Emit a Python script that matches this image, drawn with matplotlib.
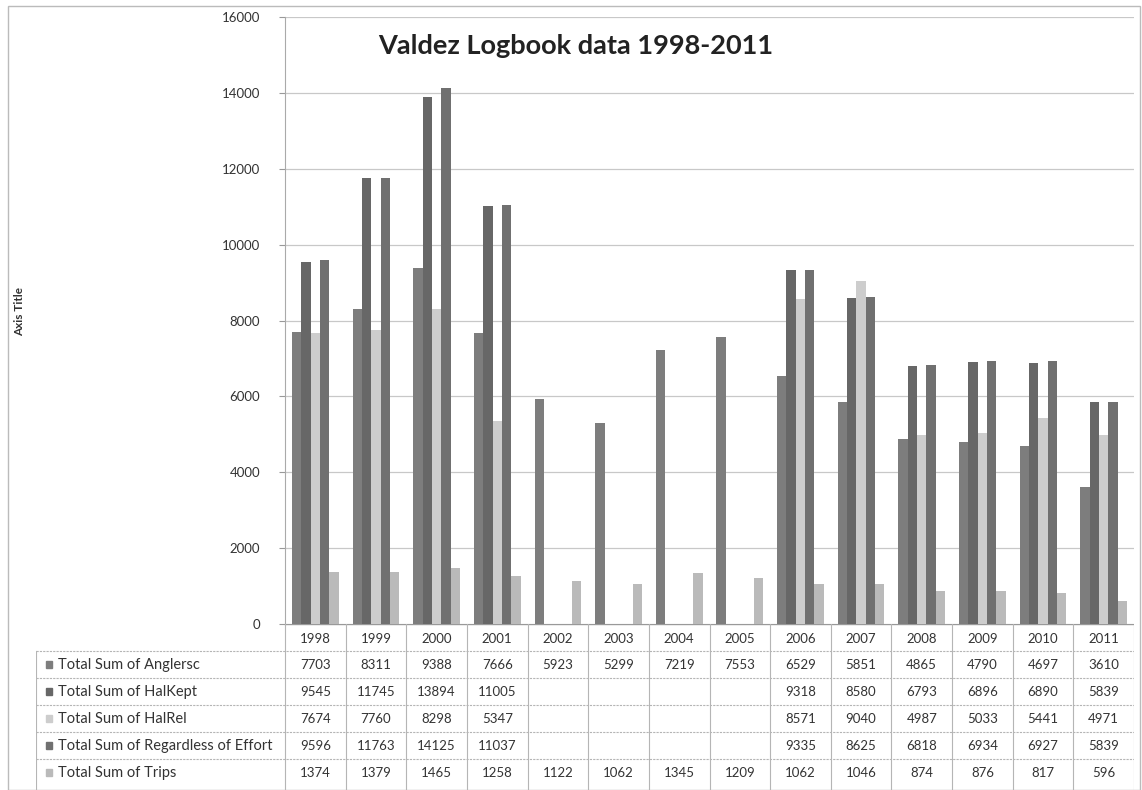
import matplotlib

matplotlib.use("Agg")
import matplotlib.pyplot as plt
import numpy as np
from matplotlib.patches import Rectangle

years = ["1998", "1999", "2000", "2001", "2002", "2003", "2004",
         "2005", "2006", "2007", "2008", "2009", "2010", "2011"]
series_names = ["Total Sum of Anglersc", "Total Sum of HalKept", "Total Sum of HalRel",
                "Total Sum of Regardless of Effort", "Total Sum of Trips"]
anglersc = [7703, 8311, 9388, 7666, 5923, 5299, 7219, 7553, 6529, 5851, 4865, 4790, 4697, 3610]
halkept = [9545, 11745, 13894, 11005, None, None, None, None, 9318, 8580, 6793, 6896, 6890, 5839]
halrel = [7674, 7760, 8298, 5347, None, None, None, None, 8571, 9040, 4987, 5033, 5441, 4971]
regardless = [9596, 11763, 14125, 11037, None, None, None, None, 9335, 8625, 6818, 6934, 6927, 5839]
trips = [1374, 1379, 1465, 1258, 1122, 1062, 1345, 1209, 1062, 1046, 874, 876, 817, 596]
colors = ["#7d7d7d", "#676767", "#cdcdcd", "#707070", "#bababa"]

all_series = [anglersc, halkept, halrel, regardless, trips]
plt.rcParams["font.family"] = ["Lato", "DejaVu Sans"]

W, H = 1142, 790
fig = plt.figure(figsize=(W / 100, H / 100), dpi=100)

# outer chart border
fig.patches.append(Rectangle((8 / W, 0), (W - 10) / W, (H - 6) / H, transform=fig.transFigure,
                             fill=False, edgecolor="#bbbbbb", linewidth=1.0))

left, right, top, base = 285, 1134, 17, 624
ax = fig.add_axes([left / W, (H - base) / H, (right - left) / W, (base - top) / H])

x = np.arange(len(years))
bw = 1 / 6.5    # excel-style 150% gap
for i, (vals, c) in enumerate(zip(all_series, colors)):
    xs = np.array([xi for xi, v in zip(x, vals) if v is not None])
    hs = [v for v in vals if v is not None]
    ax.bar(xs + (i - 2) * bw, hs, width=bw, color=c, zorder=3)

ax.set_xlim(-0.5, len(years) - 0.5)
ax.set_ylim(0, 16000)
ax.set_yticks(range(0, 16001, 2000))
ax.tick_params(axis="y", labelsize=9.5, length=4, color="#999999", pad=14, labelcolor="#333333")
ax.set_xticks([])
ax.grid(axis="y", color="#c8c8c8", linewidth=0.9, zorder=0)
for s in ["top", "right", "bottom"]:
    ax.spines[s].set_visible(False)
ax.spines["left"].set_color("#aaaaaa")
fig.text(20 / W, 1 - 312 / H, "Axis Title", rotation=90, ha="center", va="center",
         fontsize=8.5, fontweight="bold", color="#333333")
ax.text(0.11, 0.952, "Valdez Logbook data 1998-2011", transform=ax.transAxes,
        fontsize=19.5, fontweight="bold", color="#222222", va="center")

# data table under the plot
tab_left = 36
colw = (right - left) / len(years)
rowh = 27
tab = fig.add_axes([tab_left / W, 0, (right - tab_left) / W, (H - base) / H])
lab_w = (left - tab_left) / colw
tab.set_xlim(-0.5 - lab_w, len(years) - 0.5)
tab.set_ylim((H - base) / rowh, 0)
tab.axis("off")

grid_c = "#b5b5b5"
tab.plot([-0.5, len(years) - 0.5], [0, 0], color="#999999", lw=1.0)
for r in range(1, 6):
    tab.plot([-0.5 - lab_w, len(years) - 0.5], [r, r], color=grid_c, lw=0.8, ls=(0, (2, 1)))
for k in range(len(years) + 1):
    tab.plot([k - 0.5, k - 0.5], [0, 6.2], color=grid_c, lw=0.8)
tab.plot([-0.5 - lab_w, -0.5 - lab_w], [1, 6.2], color=grid_c, lw=0.8)

for k, yr in enumerate(years):
    tab.text(k, 0.55, yr, ha="center", va="center", fontsize=9.5, color="#333333")
for r, (name, vals, c) in enumerate(zip(series_names, all_series, colors), start=1):
    tab.add_patch(Rectangle((-0.5 - lab_w + 0.17, r + 0.38), 0.1, 0.26, color=c))
    tab.text(-0.5 - lab_w + 0.36, r + 0.52, name, ha="left", va="center",
             fontsize=10.5, color="#333333")
    for k, v in enumerate(vals):
        if v is not None:
            tab.text(k, r + 0.52, str(v), ha="center", va="center", fontsize=9.5, color="#333333")

fig.savefig("out.png", dpi=100)
plt.close(fig)
